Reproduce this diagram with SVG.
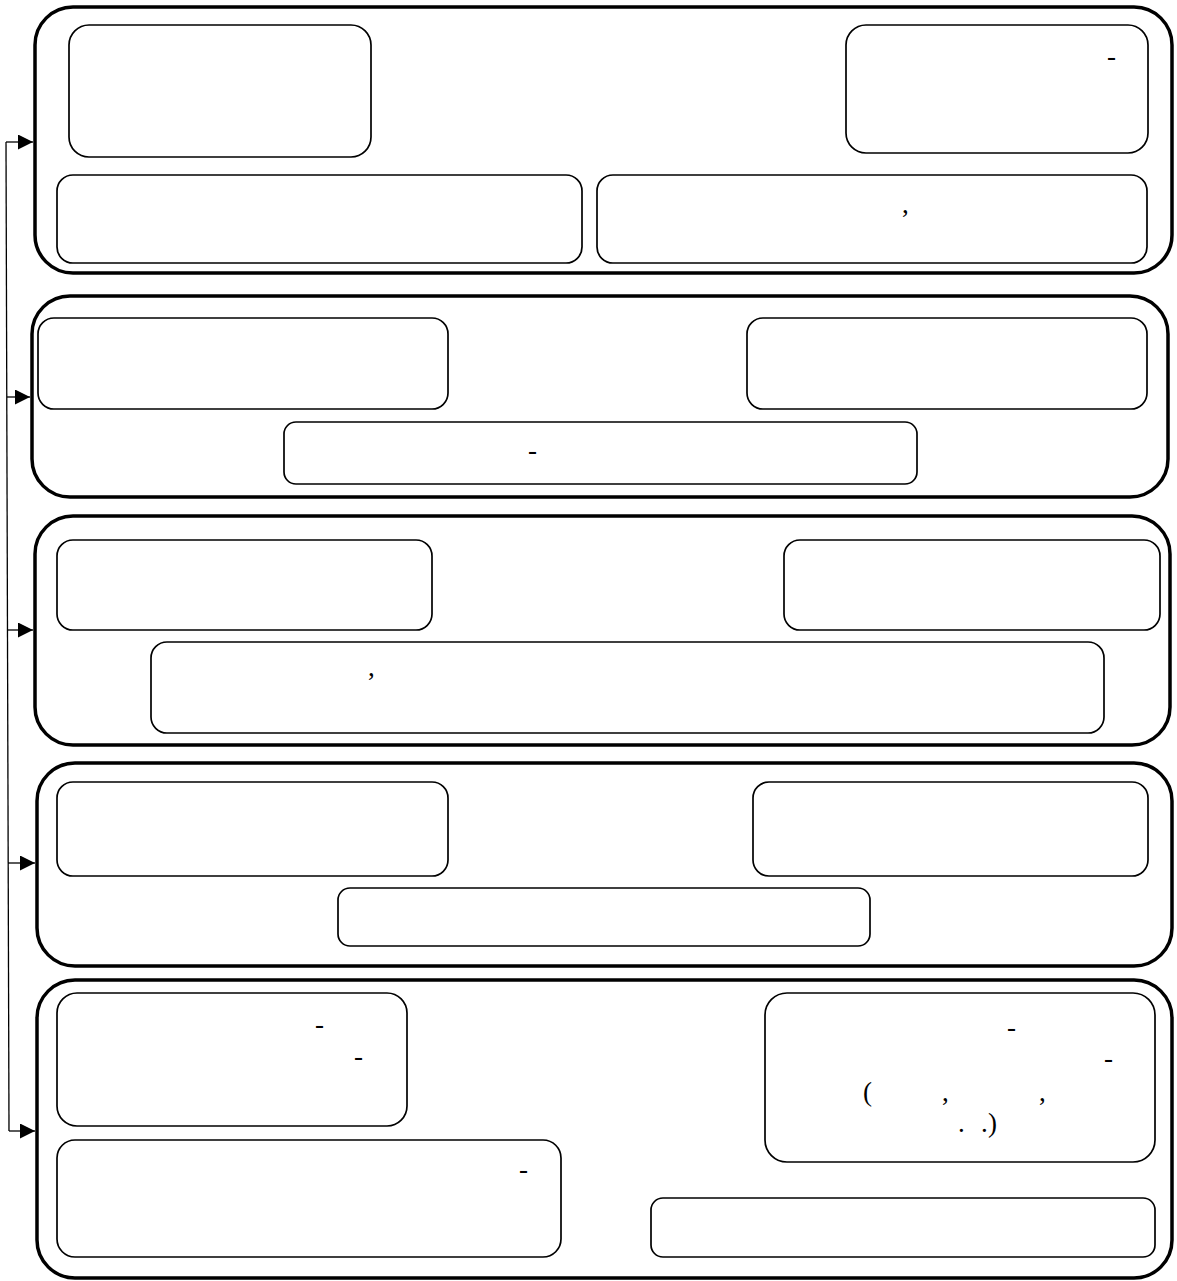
<svg xmlns="http://www.w3.org/2000/svg" width="1177" height="1281" viewBox="0 0 1177 1281">
<style>
.outer{fill:none;stroke:#000;stroke-width:3.5}
.inner{fill:#fff;stroke:#000;stroke-width:1.7}
.t{font-family:"Liberation Serif","Times New Roman",serif;font-size:27px;fill:#000}
.c{fill:none;stroke:#000;stroke-width:1.3}
</style>
<defs>
<marker id="ah" viewBox="0 0 10 10" refX="10" refY="5" markerWidth="16" markerHeight="15" markerUnits="userSpaceOnUse" orient="auto">
<path d="M0,0 L10,5 L0,10 z" fill="#000"/>
</marker>
</defs>
<rect width="1177" height="1281" fill="#fff"/>
<g id="block1">
<rect class="outer" x="35" y="7" width="1137" height="266" rx="38"/>
<g id="n1a"><rect class="inner" x="69" y="25" width="302" height="132" rx="20"/></g>
<g id="n1b"><rect class="inner" x="846" y="25" width="302" height="128" rx="20"/><text class="t" x="1107" y="65">-</text></g>
<g id="n1c"><rect class="inner" x="57" y="175" width="525" height="88" rx="16"/></g>
<g id="n1d"><rect class="inner" x="597" y="175" width="550" height="88" rx="16"/><text class="t" x="902" y="213">,</text></g>
</g>
<g id="block2">
<rect class="outer" x="32" y="296" width="1136" height="201" rx="38"/>
<g id="n2a"><rect class="inner" x="38" y="318" width="410" height="91" rx="16"/></g>
<g id="n2b"><rect class="inner" x="747" y="318" width="400" height="91" rx="16"/></g>
<g id="n2c"><rect class="inner" x="284" y="422" width="633" height="62" rx="12"/><text class="t" x="528" y="459">-</text></g>
</g>
<g id="block3">
<rect class="outer" x="35" y="516" width="1135" height="229" rx="38"/>
<g id="n3a"><rect class="inner" x="57" y="540" width="375" height="90" rx="16"/></g>
<g id="n3b"><rect class="inner" x="784" y="540" width="376" height="90" rx="16"/></g>
<g id="n3c"><rect class="inner" x="151" y="642" width="953" height="91" rx="16"/><text class="t" x="368" y="676">,</text></g>
</g>
<g id="block4">
<rect class="outer" x="37" y="763" width="1135" height="203" rx="38"/>
<g id="n4a"><rect class="inner" x="57" y="782" width="391" height="94" rx="16"/></g>
<g id="n4b"><rect class="inner" x="753" y="782" width="395" height="94" rx="16"/></g>
<g id="n4c"><rect class="inner" x="338" y="888" width="532" height="58" rx="12"/></g>
</g>
<g id="block5">
<rect class="outer" x="37" y="980" width="1135" height="298" rx="38"/>
<g id="n5a"><rect class="inner" x="57" y="993" width="350" height="133" rx="20"/><text class="t" x="315" y="1033">-</text><text class="t" x="354" y="1065">-</text></g>
<g id="n5b"><rect class="inner" x="765" y="993" width="390" height="169" rx="22"/><text class="t" x="1007" y="1036">-</text><text class="t" x="1104" y="1067">-</text><text class="t" x="863" y="1101">(</text><text class="t" x="942" y="1101">,</text><text class="t" x="1039" y="1101">,</text><text class="t" x="958" y="1132">.</text><text class="t" x="981" y="1132">.</text><text class="t" x="988" y="1132">)</text></g>
<g id="n5c"><rect class="inner" x="57" y="1140" width="504" height="117" rx="18"/><text class="t" x="519" y="1178">-</text></g>
<g id="n5d"><rect class="inner" x="651" y="1198" width="504" height="59" rx="12"/></g>
</g>
<g id="connectors">
<path class="c" d="M6,142 L9,1131"/>
<path class="c" d="M6,142 H33" marker-end="url(#ah)"/>
<path class="c" d="M7,397 H30" marker-end="url(#ah)"/>
<path class="c" d="M8,630 H33" marker-end="url(#ah)"/>
<path class="c" d="M8,863 H35" marker-end="url(#ah)"/>
<path class="c" d="M9,1131 H35" marker-end="url(#ah)"/>
</g>
</svg>
